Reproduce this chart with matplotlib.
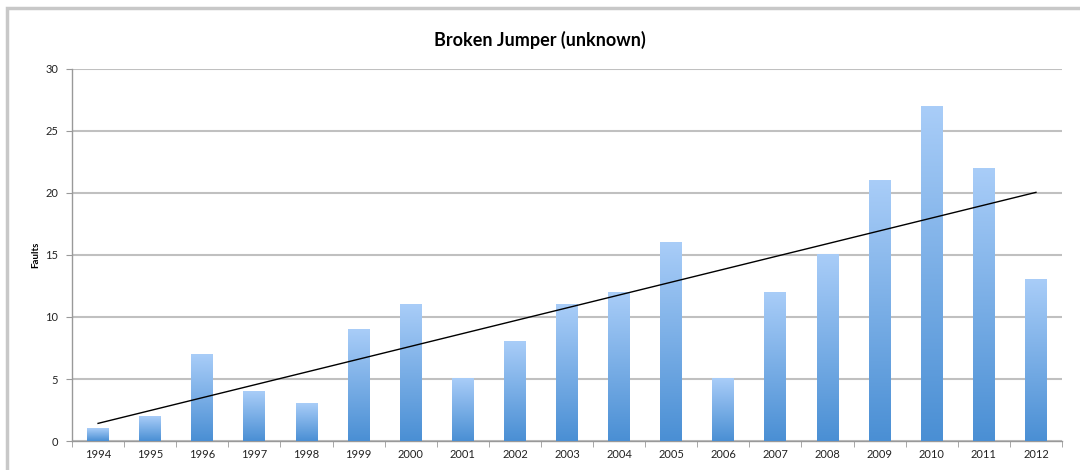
import matplotlib
matplotlib.use("Agg")
import matplotlib.pyplot as plt
import numpy as np
from matplotlib.patches import Rectangle
from matplotlib.colors import LinearSegmentedColormap

years = ["1994", "1995", "1996", "1997", "1998", "1999", "2000", "2001", "2002", "2003",
         "2004", "2005", "2006", "2007", "2008", "2009", "2010", "2011", "2012"]
faults = [1, 2, 7, 4, 3, 9, 11, 5, 8, 11, 12, 16, 5, 12, 15, 21, 27, 22, 13]
y_ticks = [0, 5, 10, 15, 20, 25, 30]

plt.rcParams['font.family'] = ['Lato', 'DejaVu Sans']

fig = plt.figure(figsize=(10.8, 4.7), dpi=100)
ax = fig.add_axes([72/1080, 1-441/470, 990/1080, (441-69)/470])

x = np.arange(len(years))
bw = 0.42
cmap = LinearSegmentedColormap.from_list("g", ["#4a8fd4", "#a9cdf8"])
grad = np.linspace(0, 1, 256).reshape(-1, 1)
bars = ax.bar(x, faults, width=bw, color="none", edgecolor="none", zorder=3)
for b in bars:
    x0, y0 = b.get_x(), b.get_y()
    w, h = b.get_width(), b.get_height()
    ax.imshow(grad, cmap=cmap, origin="lower", aspect="auto",
              extent=(x0, x0 + w, y0, y0 + h), zorder=3)

# linear trend
coef = np.polyfit(x, faults, 1)
ax.plot(x, np.polyval(coef, x), color="black", lw=1.0, zorder=4)

ax.set_xlim(-0.5, len(years) - 0.5)
ax.set_ylim(0, 30)
ax.set_yticks(y_ticks)
ax.set_xticks(x)
ax.set_xticklabels(years)
ax.set_xticks(np.arange(-0.5, len(years)), minor=True)
ax.tick_params(axis="x", which="major", length=0, labelsize=8, pad=6, colors="#222222")
ax.tick_params(axis="x", which="minor", length=4, color="#999999", direction="out")
ax.tick_params(axis="y", length=4, color="#999999", labelsize=8, pad=6, labelcolor="#222222")

ax.yaxis.grid(True, color="#c0c0c0", lw=1.5, zorder=0)
ax.set_axisbelow(True)
for s in ["top", "right"]:
    ax.spines[s].set_visible(False)
ax.spines["left"].set_color("#999999")
ax.spines["bottom"].set_color("#999999")
ax.spines["left"].set_linewidth(1)
ax.spines["bottom"].set_linewidth(1)

ax.set_ylabel("Faults", fontsize=7, fontweight="bold")
ax.yaxis.set_label_coords((40 - 72) / 990, 0.5)
fig.text(0.5, 1 - 40/470, "Broken Jumper (unknown)", ha="center", va="center",
         fontsize=13, fontweight="bold")

fig.patches.append(Rectangle((7/1080, -0.1), 1.2, 1 - 8/470 + 0.1,
                             transform=fig.transFigure, fill=False,
                             edgecolor="#c8c8c8", lw=2.5, zorder=0))

fig.savefig("out.png", dpi=100)
